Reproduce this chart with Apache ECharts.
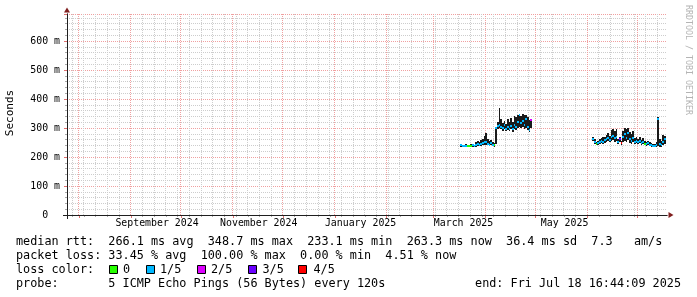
<!DOCTYPE html>
<html><head><meta charset="utf-8">
<script src="https://cdn.jsdelivr.net/npm/echarts@6/dist/echarts.min.js"></script>
<style>html,body{margin:0;padding:0;background:#fff}#c{width:697px;height:297px}</style>
</head><body><div id="c"></div>
<script>
// ---------- data (values in milliseconds) ----------
const seg1Start = '2025-03-17T12:00:00';
const seg1Median = [240,238,237,239,238,237,239,240,238,241,244,242,246,249,252,250,246,243,247,242,240,300,308,312,305,300,310,296,304,298,308,296,312,305,320,345,318,325,310,330,303,293,328];
const seg1Low    = [236,235,234,235,234,234,235,236,235,236,238,237,239,241,243,242,240,238,240,237,236,245,298,300,295,290,298,288,294,289,295,286,298,292,300,305,300,305,296,300,292,286,300];
const seg1High   = [246,243,242,244,242,241,245,246,243,250,255,252,258,262,272,283,262,254,257,250,248,305,322,369,330,318,325,315,330,320,335,322,340,338,344,348,342,348,346,345,338,327,331];
const seg1Loss   = [1,1,1,1,0,0,0,1,1,1,1,1,1,1,1,1,1,1,1,1,0,1,1,1,1,1,1,1,1,1,1,1,1,1,1,1,1,1,1,1,1,1,2];

const seg2Start = '2025-06-04T12:00:00';
const seg2Median = [262,250,244,247,252,255,250,258,262,266,260,268,272,265,270,252,261,247,270,280,266,283,262,255,266,252,256,250,254,248,252,246,244,247,242,240,238,237,241,332,244,240,250,263];
const seg2Low    = [255,245,240,241,245,248,245,249,252,255,250,256,258,252,256,246,250,243,250,255,250,258,248,246,250,245,248,244,247,243,245,241,239,241,238,236,234,233,235,238,236,235,241,245];
const seg2High   = [270,262,252,255,262,265,268,270,276,283,272,292,297,288,295,262,268,256,290,300,298,300,285,278,288,265,270,262,268,260,264,256,252,256,250,248,246,244,252,338,262,255,276,272];
const seg2Loss   = [1,1,0,1,1,1,1,1,1,1,1,1,1,1,1,1,3,4,1,1,1,1,1,1,1,1,1,1,1,1,1,0,1,1,1,1,1,1,1,1,1,1,1,1];

const xStart = '2024-07-24T20:00:00';
const xEnd = '2025-07-18T16:44:09';
const firstSunday = '2024-07-28T00:00:00';
const monthStarts = ['2024-08-01','2024-09-01','2024-10-01','2024-11-01','2024-12-01','2025-01-01','2025-02-01','2025-03-01','2025-04-01','2025-05-01','2025-06-01','2025-07-01'];
const monthLabelDates = ['2024-09-16T16:00:00','2024-11-16T12:00:00','2025-01-16T10:00:00','2025-03-19T00:00:00','2025-05-18T10:00:00'];
const monthLabels = ['September 2024','November 2024','January 2025','March 2025','May 2025'];
const yMax = 693.1;
const yMajor = 100;
const yMinor = 20;

const lossColors = ['#26ff00','#00b8ff','#dd00ff','#6a00ff','#ff0000'];
const lossLabels = ['0','1/5','2/5','3/5','4/5'];
const statRtt  = 'median rtt:  266.1 ms avg  348.7 ms max  233.1 ms min  263.3 ms now  36.4 ms sd  7.3   am/s';
const statLoss = 'packet loss: 33.45 % avg  100.00 % max  0.00 % min  4.51 % now';
const probeText = 'probe:       5 ICMP Echo Pings (56 Bytes) every 120s';
const endText = 'end: Fri Jul 18 16:44:09 2025';

// ---------- build ----------
const DAY = 86400000;
const ms = s => Date.parse((s.length === 10 ? s + 'T00:00:00' : s) + 'Z');
function buildSeg(start, med, lo, hi, loss) {
  const t0 = ms(start);
  return med.map((m, i) => ({t: t0 + i * DAY, med: m, lo: lo[i], hi: hi[i], loss: loss[i]}));
}
const pts = buildSeg(seg1Start, seg1Median, seg1Low, seg1High, seg1Loss)
  .concat(buildSeg(seg2Start, seg2Median, seg2Low, seg2High, seg2Loss));
const smokeData = pts.map(p => [p.t, p.lo, p.hi]);
const medData = pts.map(p => [p.t, p.med, p.loss]);

const xMin = ms(xStart), xMax = ms(xEnd);
const months = monthStarts.map(ms);
const weeks = [];
for (let t = ms(firstSunday); t < xMax; t += 7 * DAY) if (months.indexOf(t) < 0) weeks.push(t);
const labelMs = monthLabelDates.map(ms);

const FONT = 'DejaVu Sans Mono';
const MINOR = '#cdcdcd', MAJOR = '#f0a0a0';

function tAxis(extra) {
  return Object.assign({type: 'value', min: xMin, max: xMax, position: 'bottom', scale: true,
    axisLine: {show: false}, axisTick: {show: false}, axisLabel: {show: false}, splitLine: {show: false}}, extra);
}
function vAxis(extra) {
  return Object.assign({type: 'value', min: 0, max: yMax, position: 'left',
    axisLine: {show: false}, axisTick: {show: false}, axisLabel: {show: false}, splitLine: {show: false}}, extra);
}
// vertical grid lines drawn through the x scale, snapped to the pixel grid
function vGrid(vals, color, z) {
  return {
    type: 'custom', xAxisIndex: 0, yAxisIndex: 1, z: z, silent: true, clip: true,
    encode: {x: 0, y: 1},
    data: vals.map(v => [v, 0]),
    renderItem: (params, api) => {
      const x = Math.floor(api.coord([api.value(0), 0])[0]) + 0.5;
      const cs = params.coordSys;
      return {type: 'line', shape: {x1: x, y1: cs.y, x2: x, y2: cs.y + cs.height},
        style: {stroke: color, lineWidth: 1, lineDash: [1, 1]}};
    }
  };
}

const chart = echarts.init(document.getElementById('c'), null, {renderer: 'canvas'});
const option = {
  animation: false,
  backgroundColor: '#ffffff',
  grid: {left: 67, top: 14, width: 600, height: 201, containLabel: false},
  xAxis: [
    tAxis({z: 0, axisTick: {show: true, customValues: weeks, length: 2, lineStyle: {color: '#aaa'}}}),
    tAxis({z: 1, axisTick: {show: true, customValues: months, length: 3, lineStyle: {color: '#e07070'}}}),
    tAxis({z: 3, axisLine: {show: true, onZero: false, lineStyle: {color: '#801f1f', width: 1},
      symbol: ['none', 'triangle'], symbolSize: [6, 5], symbolOffset: [0, 4]}}),
    tAxis({z: 4, axisLine: {show: true, onZero: false, lineStyle: {color: '#1f1f1f', width: 1}},
      axisTick: {show: true, customValues: [xMin], length: 4, lineStyle: {color: '#1f1f1f'}},
      axisLabel: {show: true, customValues: labelMs, margin: 3, color: '#000', fontFamily: FONT, fontSize: 9.9,
        formatter: v => { let best = 0; labelMs.forEach((m, i) => { if (Math.abs(m - v) < Math.abs(labelMs[best] - v)) best = i; }); return monthLabels[best]; }}})
  ],
  yAxis: [
    vAxis({z: 0, interval: yMinor, axisTick: {show: true, length: 2, lineStyle: {color: '#aaa'}},
      splitLine: {show: true, lineStyle: {color: MINOR, width: 1, type: [1, 1]}}}),
    vAxis({z: 1, interval: yMajor, axisTick: {show: true, length: 3, lineStyle: {color: '#e07070'}},
      splitLine: {show: true, lineStyle: {color: MAJOR, width: 1, type: [1, 1]}},
      axisLabel: {show: true, margin: 7, color: '#000', fontFamily: FONT, fontSize: 9.9,
        formatter: v => (v === 0 ? '0  ' : (v % yMajor === 0 ? v + ' m' : ''))}}),
    vAxis({z: 3, axisLine: {show: true, onZero: false, lineStyle: {color: '#801f1f', width: 1},
      symbol: ['none', 'triangle'], symbolSize: [6, 5], symbolOffset: [0, 4]}}),
    vAxis({z: 4, axisLine: {show: true, onZero: false, lineStyle: {color: '#1f1f1f', width: 1}},
      axisTick: {show: true, customValues: [0], length: 4, lineStyle: {color: '#1f1f1f'}}})
  ],
  series: [
    vGrid(weeks, MINOR, 1),
    vGrid(months, MAJOR, 1),
    {
      type: 'custom', xAxisIndex: 0, yAxisIndex: 1, z: 2, clip: true,
      encode: {x: 0, y: [1, 2]},
      data: smokeData,
      renderItem: (params, api) => {
        const t = api.value(0), lo = api.value(1), hi = api.value(2);
        const pHi = api.coord([t, hi]), pLo = api.coord([t, lo]);
        const w = api.size([DAY, 0])[0];
        const x0 = Math.round(pHi[0] - w / 2), x1 = Math.round(pHi[0] + w / 2);
        const y0 = Math.round(pHi[1]), y1 = Math.round(pLo[1]);
        return {type: 'rect', shape: {x: x0, y: y0, width: Math.max(1, x1 - x0), height: Math.max(1, y1 - y0)},
          style: {fill: '#1a1a1a'}};
      }
    },
    {
      type: 'custom', xAxisIndex: 0, yAxisIndex: 1, z: 3, clip: true,
      encode: {x: 0, y: 1},
      data: medData,
      renderItem: (params, api) => {
        const t = api.value(0), m = api.value(1), l = api.value(2);
        const p = api.coord([t, m]);
        const w = api.size([DAY, 0])[0];
        const x0 = Math.round(p[0] - w / 2), x1 = Math.round(p[0] + w / 2);
        return {type: 'rect', shape: {x: x0, y: Math.round(p[1]) - 1, width: Math.max(1, x1 - x0), height: 2},
          style: {fill: lossColors[l]}};
      }
    }
  ],
  graphic: []
};

const g = option.graphic;
const txt = (x, y, text, extra) => g.push(Object.assign({type: 'text', x: x, y: y, silent: true,
  style: Object.assign({text: text, fill: '#000', font: '11.8px "' + FONT + '"', textVerticalAlign: 'middle'}, extra || {})}));
txt(16, 241.5, statRtt);
txt(16, 255.5, statLoss);
txt(16, 269.5, 'loss color:');
const boxX = [109, 146, 197, 248, 298];
const labX = [123, 160, 211, 262.5, 313.5];
lossLabels.forEach((lab, i) => {
  g.push({type: 'rect', silent: true, shape: {x: boxX[i] + 0.5, y: 265.5, width: 8, height: 8},
    style: {fill: lossColors[i], stroke: '#000', lineWidth: 1}});
  txt(labX[i], 269.5, lab);
});
txt(16, 283.5, probeText);
txt(681, 283.5, endText, {textAlign: 'right'});
g.push({type: 'text', x: 10, y: 113, rotation: Math.PI / 2, silent: true,
  style: {text: 'Seconds', fill: '#000', font: '11px "' + FONT + '"', textAlign: 'center', textVerticalAlign: 'middle'}});
g.push({type: 'text', x: 688, y: 60, rotation: -Math.PI / 2, silent: true,
  style: {text: 'RRDTOOL / TOBI OETIKER', fill: '#b4b4b4', font: '8.3px "' + FONT + '"', textAlign: 'center', textVerticalAlign: 'middle'}});

chart.setOption(option);
</script>
</body></html>
